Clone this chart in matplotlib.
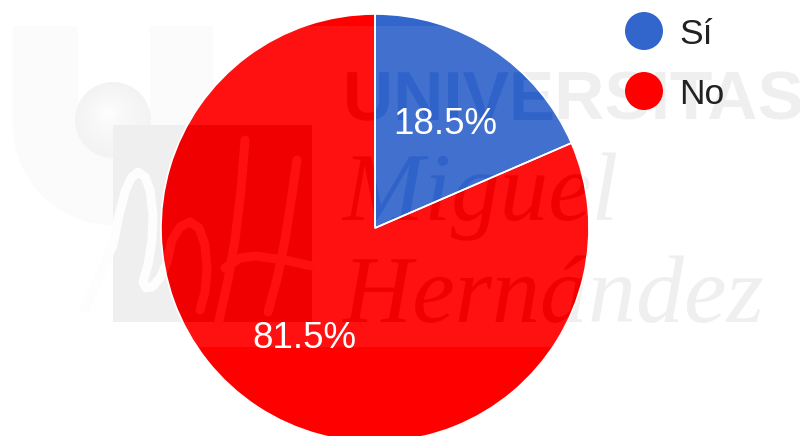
import matplotlib
matplotlib.use('Agg')
import matplotlib.pyplot as plt
import matplotlib.patheffects as pe
from matplotlib.patches import Circle, Rectangle, Wedge

labels = ['Sí', 'No']
values = [18.5, 81.5]
colors = ['#3366CC', '#FF0000']

W, H = 800, 436
SANS = ['Liberation Sans', 'DejaVu Sans']
SERIF = ['Liberation Serif', 'DejaVu Serif']

# scribble of the logo, in picture pixels
scribble_1 = [(85, 308), (100, 275), (113, 245), (119, 215), (125, 192), (131, 178), (138, 172),
              (145, 177), (150, 190), (153, 215), (152, 240), (148, 265), (143, 282), (146, 288),
              (152, 287), (160, 278), (167, 262), (172, 240), (180, 227), (190, 222), (199, 228),
              (205, 245), (207, 270), (205, 292), (200, 310)]
scribble_2 = [(218, 325), (228, 280), (235, 240), (241, 190), (245, 140)]
scribble_3 = [(268, 312), (278, 275), (285, 240), (292, 195), (297, 160)]
scribble_4 = [(225, 268), (240, 258), (255, 256), (285, 260), (312, 266)]
ball_radii = [38, 34, 30, 26, 22, 18, 14, 10, 6]
ball_greys = ['#F3F3F3', '#F4F4F4', '#F5F5F5', '#F6F6F6', '#F7F7F7', '#F8F8F8', '#F9F9F9', '#FBFBFB', '#FDFDFD']


def fy(y):
    # picture pixels run downwards, the axes run upwards
    return H - y


def watermark(ax, color, gap_color, clip=None, z=1):
    # logo block and the three words, used once on white and once per wedge
    items = [ax.add_patch(Rectangle((113, fy(322)), 199, 197, fc=color, ec='none', zorder=z))]
    for path in [scribble_1, scribble_2, scribble_3, scribble_4]:
        line, = ax.plot([p[0] for p in path], [fy(p[1]) for p in path], color=gap_color,
                        lw=6.5, solid_capstyle='round', solid_joinstyle='round', zorder=z + 0.1)
        items.append(line)
    items.append(ax.text(343, fy(120), 'UNIVERSITAS', family=SANS, weight='bold', fontsize=50,
                         color=color, va='baseline', zorder=z + 0.2))
    items.append(ax.text(343, fy(220), 'Miguel', family=SERIF, style='italic', fontsize=70,
                         color=color, va='baseline', zorder=z + 0.2))
    items.append(ax.text(343, fy(322), 'Hernández', family=SERIF, style='italic', fontsize=69,
                         color=color, va='baseline', zorder=z + 0.2))
    if clip is not None:
        for item in items:
            item.set_clip_on(True)
            item.set_clip_path(clip)
            # agg ignores a clip path on plain text, a path effect draws it as a path
            if hasattr(item, 'get_text'):
                item.set_path_effects([pe.Normal()])


fig = plt.figure(figsize=(W / 100, H / 100), dpi=100)
ax = fig.add_axes([0, 0, 1, 1])

# faint logo on the white background
ax.add_patch(Wedge((113, fy(125)), 100, 180, 360, fc='#FBFBFB', ec='none', zorder=0.5))
ax.add_patch(Rectangle((13, fy(125)), 65, 99, fc='#FBFBFB', ec='none', zorder=0.5))
ax.add_patch(Rectangle((150, fy(125)), 63, 99, fc='#FBFBFB', ec='none', zorder=0.5))
for r, c in zip(ball_radii, ball_greys):
    ax.add_patch(Circle((113 - (38 - r) * 0.15, fy(120 - (38 - r) * 0.2)), r, fc=c, ec='none', zorder=0.7))
watermark(ax, '#EFEFEF', '#FDFDFD')

wedges, _ = ax.pie(values, colors=colors, startangle=90, counterclock=False,
                   center=(375, fy(228)), radius=214,
                   wedgeprops={'linewidth': 0, 'zorder': 3})

# the picture is paler inside the watermark band
clip_disc = Circle((375, fy(228)), 214, transform=ax.transData)
band = ax.add_patch(Rectangle((0, fy(347)), W, 321, fc='white', ec='none', alpha=0.07, zorder=4))
band.set_clip_path(clip_disc)

watermark(ax, '#3063C9', '#4472CF', wedges[0], z=5)
watermark(ax, '#F00000', '#FF1010', wedges[1], z=5)

# white separators and the percentages on top
_, _, pct = ax.pie(values, colors=['none', 'none'], startangle=90, counterclock=False,
                   center=(375, fy(228)), radius=214, autopct='%.1f%%', pctdistance=0.6,
                   wedgeprops={'edgecolor': 'white', 'linewidth': 1.2, 'zorder': 7},
                   textprops={'color': 'white', 'fontsize': 26.5, 'family': SANS, 'zorder': 8})
for t in pct:
    t.set_va('baseline')
    t.set_y(t.get_position()[1] - 13)

for i, (lab, col) in enumerate(zip(labels, colors)):
    y = 31 + i * 60
    ax.add_patch(Circle((644, fy(y)), 19, fc=col, ec='none', zorder=8))
    ax.text(679, fy(y + 13), lab, family=SANS, fontsize=25.5, color='#222222', va='baseline', zorder=8)

ax.set_xlim(0, W)
ax.set_ylim(0, H)
ax.axis('off')

fig.savefig('out.png', dpi=100, facecolor='white')
